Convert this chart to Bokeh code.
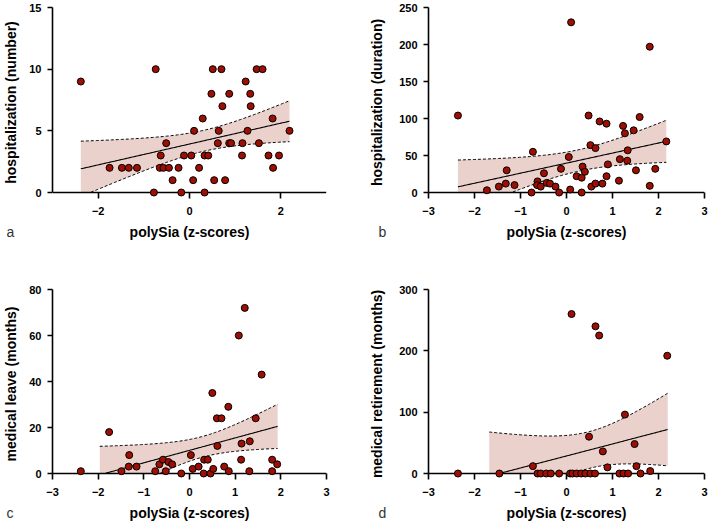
import numpy as np
from bokeh.plotting import figure
from bokeh.layouts import column, row
from bokeh.models import Range1d, FixedTicker, Span, Title
from bokeh.embed import file_html
from bokeh.resources import INLINE

# ---------------- data ----------------
# a: hospitalization (number)
polysia_a = [-2.38, -0.74, 0.51, 0.70, 1.47, 1.60, 1.23, 0.48, 0.87, 1.33, 0.72, 1.34, 0.29, 1.82,
             0.10, 0.64, 1.27, 2.19, -0.51, 0.62, 0.87, 0.91, 1.16, 1.52, -0.63, -0.12, 0.04, 0.33,
             0.41, 1.15, 1.73, 1.96, -1.75, -1.48, -1.33, -1.15, -0.65, -0.57, -0.45, -0.24, 0.21,
             1.83, -0.37, 0.08, 0.54, 0.78, -0.78, -0.18, 0.33]
hosp_number = [9, 10, 10, 10, 10, 10, 9, 8, 8, 8, 7, 7, 6, 6, 5, 5, 5, 5, 4, 4, 4, 4, 4, 4,
               3, 3, 3, 3, 3, 3, 3, 3, 2, 2, 2, 2, 2, 2, 2, 2, 2, 2, 1, 1, 1, 1, 0, 0, 0]

# b: hospitalization (duration)
polysia_b = [-2.36, 0.10, 1.81, -1.73, -1.47, -1.32, -1.30, -1.13, -0.76, -0.73, -0.63, -0.64,
             -0.56, -0.49, -0.43, -0.36, -0.24, -0.16, -0.12, 0.05, 0.08, 0.22, 0.33, 0.33, 0.35,
             0.40, 0.48, 0.52, 0.54, 0.63, 0.63, 0.72, 0.78, 0.87, 0.87, 0.90, 1.14, 1.16, 1.23,
             1.27, 1.32, 1.33, 1.46, 1.51, 1.59, 1.81, 1.93, 2.17]
hosp_duration = [104, 230, 197, 3, 8, 12, 30, 10, 0, 55, 15, 10, 8, 26, 13, 12, 8, 0, 32, 48,
                 4, 22, 0, 20, 35, 28, 104, 64, 8, 60, 12, 96, 12, 93, 22, 38, 16, 45, 90, 80,
                 43, 57, 84, 30, 102, 9, 32, 69]

# c: medical leave (months)
polysia_c = [-2.38, -1.76, -1.49, -1.32, -1.33, -1.16, -0.75, -0.66, -0.58, -0.52, -0.46, -0.38,
             -0.18, 0.03, 0.07, 0.20, 0.31, 0.32, 0.40, 0.46, 0.50, 0.52, 0.60, 0.61, 0.70, 0.76,
             0.85, 0.86, 1.08, 1.13, 1.14, 1.21, 1.31, 1.32, 1.45, 1.58, 1.81, 1.81, 1.92]
medical_leave = [1, 18, 1, 8, 3, 3, 1, 4, 6, 1, 5, 4, 0, 8, 2, 3, 0, 6, 6, 0, 35, 2, 24, 12,
                 24, 3, 29, 1, 60, 6, 13, 72, 1, 14, 24, 43, 6, 1, 4]

# d: medical retirement (months)
polysia_d = [0.11, 0.63, 0.71, 2.19, 1.27, 0.49, 1.48, 0.79, -0.73, 0.89, 1.52, 1.82,
             -2.36, -1.46, -0.63, -0.56, -0.44, -0.34, -0.16, 0.08, 0.13, 0.22, 0.32, 0.41,
             0.52, 0.62, 1.15, 1.24, 1.34, 1.61]
medical_retirement = [260, 240, 225, 192, 96, 60, 48, 36, 12, 10, 12, 4,
                      0, 0, 0, 0, 0, 0, 0, 0, 0, 0, 0, 0, 0, 0, 0, 0, 0, 0]

# linear fits with 95% confidence bands (panels a, b, c, d)
fit_intercept = [3.93, 39.7, 10.06, 28.6]
fit_slope = [0.845, 13.58, 5.41, 19.6]
fit_xmin = [-2.38, -2.36, -1.965, -1.68]
fit_xmax = [2.19, 2.17, 1.93, 2.20]
ci_xbar = [0.33, 0.25, 0.28, 0.50]
ci_min_half = [0.85, 14.5, 4.5, 30.0]
ci_spread = [1.11, 1.14, 0.875, 1.0]

y_labels = ["hospitalization (number)", "hospitalization (duration)",
            "medical leave (months)", "medical retirement (months)"]
y_max = [15, 250, 80, 300]
y_ticks = [[0, 5, 10, 15], [0, 50, 100, 150, 200, 250], [0, 20, 40, 60, 80], [0, 100, 200, 300]]
x_ticks = [[-2, 0, 2], [-3, -2, -1, 0, 1, 2, 3], [-3, -2, -1, 0, 1, 2, 3], [-3, -2, -1, 0, 1, 2, 3]]
letters = ["a", "b", "c", "d"]
x_label = "polySia (z-scores)"

xs_all = [polysia_a, polysia_b, polysia_c, polysia_d]
ys_all = [hosp_number, hosp_duration, medical_leave, medical_retirement]

# ---------------- style ----------------
FONT = "Liberation Sans"
DOT = "#9E0E02"
BAND = "#EBD1CC"
AXW = 1.6
PADPX = 5


def make_panel(k, left_col, top_row):
    W = 360 if left_col else 349
    H = 270 if top_row else 255
    bl = 50 if left_col else 68
    br = 34 if left_col else 5
    bt = 7 if top_row else 19
    bb = 73 if top_row else 47
    frame_h = H - bt - bb
    axis_px = frame_h - PADPX
    ymax = y_max[k]
    pad = ymax * PADPX / axis_px

    p = figure(width=W, height=H, x_range=Range1d(-3, 3), y_range=Range1d(-pad, ymax),
               output_backend="svg", toolbar_location=None,
               min_border_left=bl, min_border_right=br, min_border_top=bt, min_border_bottom=bb)
    p.outline_line_color = None
    p.grid.visible = False

    bx = np.linspace(fit_xmin[k], fit_xmax[k], 150)
    by = fit_intercept[k] + fit_slope[k] * bx
    half = ci_min_half[k] * np.sqrt(1 + ((bx - ci_xbar[k]) / ci_spread[k]) ** 2)
    up = by + half
    lo = np.clip(by - half, 0, None)
    p.varea(x=bx, y1=lo, y2=up, fill_color=BAND, fill_alpha=1)
    p.line(bx, up, line_color="black", line_width=1, line_dash="3 2")
    p.line(bx, lo, line_color="black", line_width=1, line_dash="3 2")
    p.line(bx, np.clip(by, 0, None), line_color="black", line_width=1.1)

    # x axis baseline at y = 0
    p.add_layout(Span(location=0, dimension="width", line_color="black", line_width=AXW))

    r = p.scatter(xs_all[k], ys_all[k], size=7, fill_color=DOT, line_color="black", line_width=1)
    r.level = "overlay"

    for ax in (p.xaxis[0], p.yaxis[0]):
        ax.axis_line_width = AXW
        ax.major_tick_line_width = AXW
        ax.minor_tick_line_color = None
        ax.major_label_text_font = FONT
        ax.major_label_text_font_style = "bold"
        ax.major_label_text_font_size = "11px"
        ax.major_label_text_color = "black"
        ax.axis_label_text_font = FONT
        ax.axis_label_text_font_style = "bold"
        ax.axis_label_text_font_size = "14px"
        ax.axis_label_text_color = "black"

    p.xaxis.axis_line_color = None
    p.xaxis.major_tick_in = PADPX
    p.xaxis.major_tick_out = 1
    p.xaxis.ticker = FixedTicker(ticks=x_ticks[k])
    p.xaxis.axis_label = x_label
    p.xaxis.major_label_standoff = 8
    p.xaxis.axis_label_standoff = 6

    p.yaxis.bounds = (0, ymax)
    p.yaxis.major_tick_in = 0
    p.yaxis.major_tick_out = 5
    p.yaxis.ticker = FixedTicker(ticks=y_ticks[k])
    p.yaxis.axis_label = y_labels[k]
    p.yaxis.major_label_standoff = 6
    p.yaxis.axis_label_standoff = 7 if left_col else 11

    # panel letter, on the same line as the x-axis title
    p.add_layout(Title(text=letters[k], align="left", offset=-46 if left_col else -50,
                       vertical_align="top", standoff=-38,
                       text_font=FONT, text_font_size="14px", text_font_style="normal",
                       text_color="#333333"), "below")
    return p


pa = make_panel(0, True, True)
pb = make_panel(1, False, True)
pc = make_panel(2, True, False)
pd = make_panel(3, False, False)

root = column(row(pa, pb, spacing=0), row(pc, pd, spacing=0), spacing=0)

open("out.html", "w").write(file_html(root, INLINE))
